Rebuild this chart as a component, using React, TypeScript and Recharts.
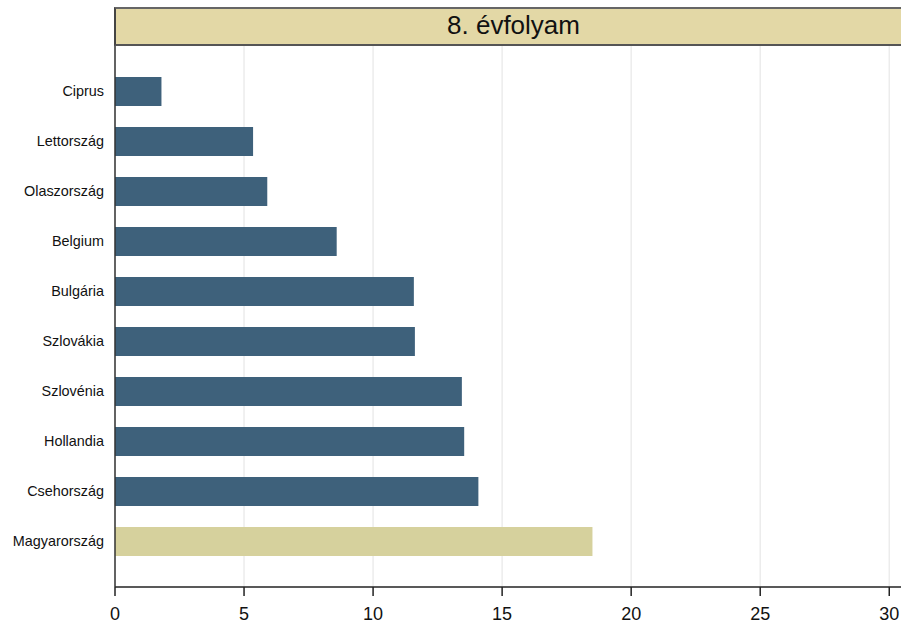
import React from 'react';
import { BarChart, Bar, XAxis, YAxis, CartesianGrid, Cell } from 'recharts';

const countries = [
  'Ciprus',
  'Lettország',
  'Olaszország',
  'Belgium',
  'Bulgária',
  'Szlovákia',
  'Szlovénia',
  'Hollandia',
  'Csehország',
  'Magyarország',
];
const values = [1.8, 5.35, 5.9, 8.59, 11.58, 11.62, 13.44, 13.53, 14.08, 18.5];
const xTicks = [0, 5, 10, 15, 20, 25, 30];
const title = '8. évfolyam';

const data = countries.map((name, i) => ({ name, value: values[i] }));

const FONT = '"Liberation Sans", Arial, sans-serif';

const App: React.FC = () => {
  return (
    <div
      style={{
        position: 'absolute',
        left: 0,
        top: 0,
        width: 901,
        height: 628,
        overflow: 'hidden',
        background: '#fff',
        fontFamily: FONT,
      }}
    >
      <BarChart
        width={920}
        height={628}
        data={data}
        layout="vertical"
        margin={{ top: 45, right: 7, bottom: 0, left: 0 }}
      >
        <CartesianGrid horizontal={false} stroke="#ececec" strokeWidth={1.5} />
        <XAxis
          type="number"
          domain={[0, 30.92]}
          ticks={xTicks}
          allowDataOverflow
          height={41}
          tickSize={9}
          tickMargin={11}
          stroke="#222"
          strokeWidth={1.5}
          tick={{ fill: '#111', fontSize: 18, fontFamily: FONT }}
        />
        <YAxis
          type="category"
          dataKey="name"
          width={115}
          padding={{ top: 21, bottom: 21 }}
          tickLine={false}
          tickSize={0}
          tickMargin={11}
          stroke="#333"
          strokeWidth={1.5}
          tick={{ fill: '#111', fontSize: 14.4, fontFamily: FONT }}
        />
        <Bar dataKey="value" barSize={29} isAnimationActive={false}>
          {data.map((entry, index) => (
            <Cell
              key={`cell-${index}`}
              fill={entry.name === 'Magyarország' ? '#d6d19d' : '#3e617b'}
            />
          ))}
        </Bar>
      </BarChart>
      <div
        style={{
          position: 'absolute',
          left: 114,
          top: 7,
          width: 820,
          height: 35,
          background: '#e3d8a6',
          borderTop: '2px solid #666',
          borderBottom: '2px solid #555',
          borderLeft: '2px solid #444',
          boxSizing: 'content-box',
        }}
      />
      <div
        style={{
          position: 'absolute',
          left: 115,
          top: 7,
          width: 797,
          height: 37,
          lineHeight: '37px',
          textAlign: 'center',
          fontSize: 26,
          color: '#111',
        }}
      >
        {title}
      </div>
    </div>
  );
};

export default App;
